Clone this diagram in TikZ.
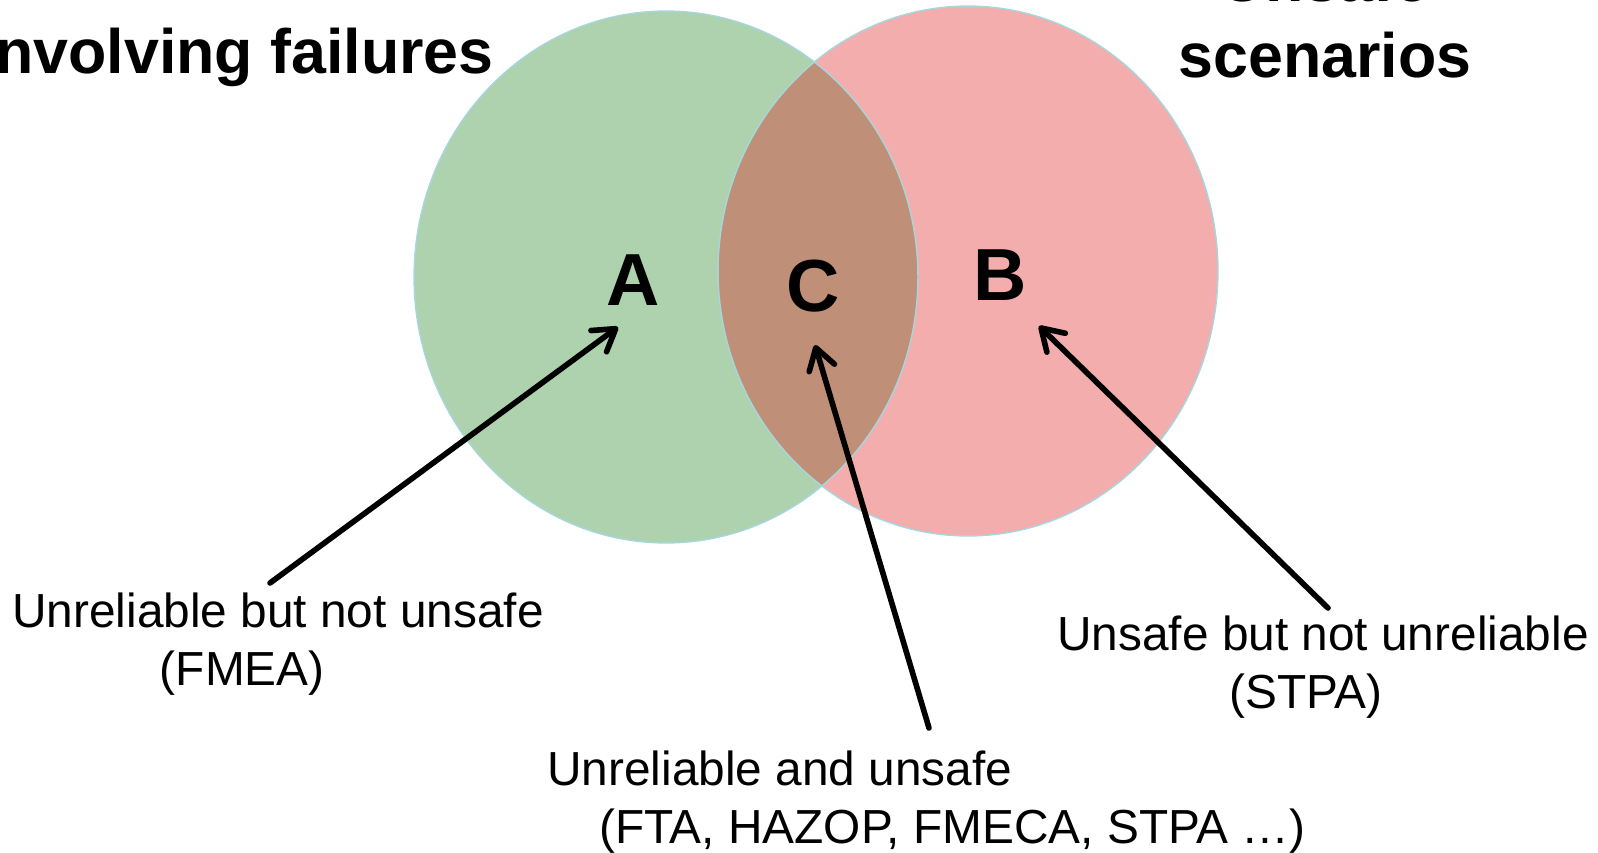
\documentclass[tikz,border=0pt]{standalone}
\usepackage{fontspec}
\setmainfont{Liberation Sans}
\usetikzlibrary{arrows.meta}
\definecolor{failgreen}{HTML}{AED2AE}
\definecolor{unsafered}{HTML}{F3ADAD}
\definecolor{overlapbrown}{HTML}{BF8F78}
\definecolor{rimblue}{HTML}{A6D6DE}

\begin{document}
\begin{tikzpicture}[x=0.02cm, y=-0.02cm,
  every node/.style={inner sep=0pt},
  ring/.style={draw=rimblue, line width=0.8pt},
  letter/.style={font=\fontsize{42}{50}\selectfont\bfseries, anchor=base},
  heading/.style={font=\fontsize{35.7}{43}\selectfont\bfseries},
  caption/.style={font=\fontsize{27.2}{32.8}\selectfont, align=left, anchor=base west},
  pointer/.style={-{Straight Barb[round,length=12pt,width=15pt]}, line width=3.2pt, line cap=round},
]
  \useasboundingbox (0,0) rectangle (1598,852);
  \clip (0,0) rectangle (1598,852);

  % the two sets and their overlap
  \fill[failgreen] (666,277) ellipse [x radius=5.04cm, y radius=5.32cm];
  \fill[unsafered] (968,271) ellipse [x radius=5.0cm, y radius=5.3cm];
  \begin{scope}
    \clip (666,277) ellipse [x radius=5.04cm, y radius=5.32cm];
    \fill[overlapbrown] (968,271) ellipse [x radius=5.0cm, y radius=5.3cm];
  \end{scope}
  \draw[ring] (666,277) ellipse [x radius=5.04cm, y radius=5.32cm];
  \draw[ring] (968,271) ellipse [x radius=5.0cm, y radius=5.3cm];

  % headings, cut by the page edge
  \node[heading, anchor=base east] (failhead) at (494,73) {involving failures};
  \node[heading, anchor=base, align=center] (unsafehead) at (1325,77) {Unsafe\\scenarios};

  \node[letter] (A) at (633,305) {A};
  \node[letter] (C) at (813,311) {C};
  \node[letter] (B) at (1000,300) {B};

  % captions sit on the baseline of their last line
  \node[caption] (fmea) at (12,685) {Unreliable but not unsafe\\\hspace*{84pt}(FMEA)};
  \node[caption] (stpa) at (1057,708) {Unsafe but not unreliable\\\hspace*{98pt}(STPA)};
  \node[caption] (both) at (547,843) {Unreliable and unsafe\\\hspace*{29.5pt}(FTA, HAZOP, FMECA, STPA \dots)};

  \coordinate (fromA) at (270,583);
  \coordinate (toA) at (618,327);
  \coordinate (fromC) at (929,728);
  \coordinate (toC) at (815,345);
  \coordinate (fromB) at (1328,608);
  \coordinate (toB) at (1039,326);

  \draw[pointer] (fromA) -- (toA);
  \draw[pointer] (fromC) -- (toC);
  \draw[pointer] (fromB) -- (toB);
\end{tikzpicture}
\end{document}
